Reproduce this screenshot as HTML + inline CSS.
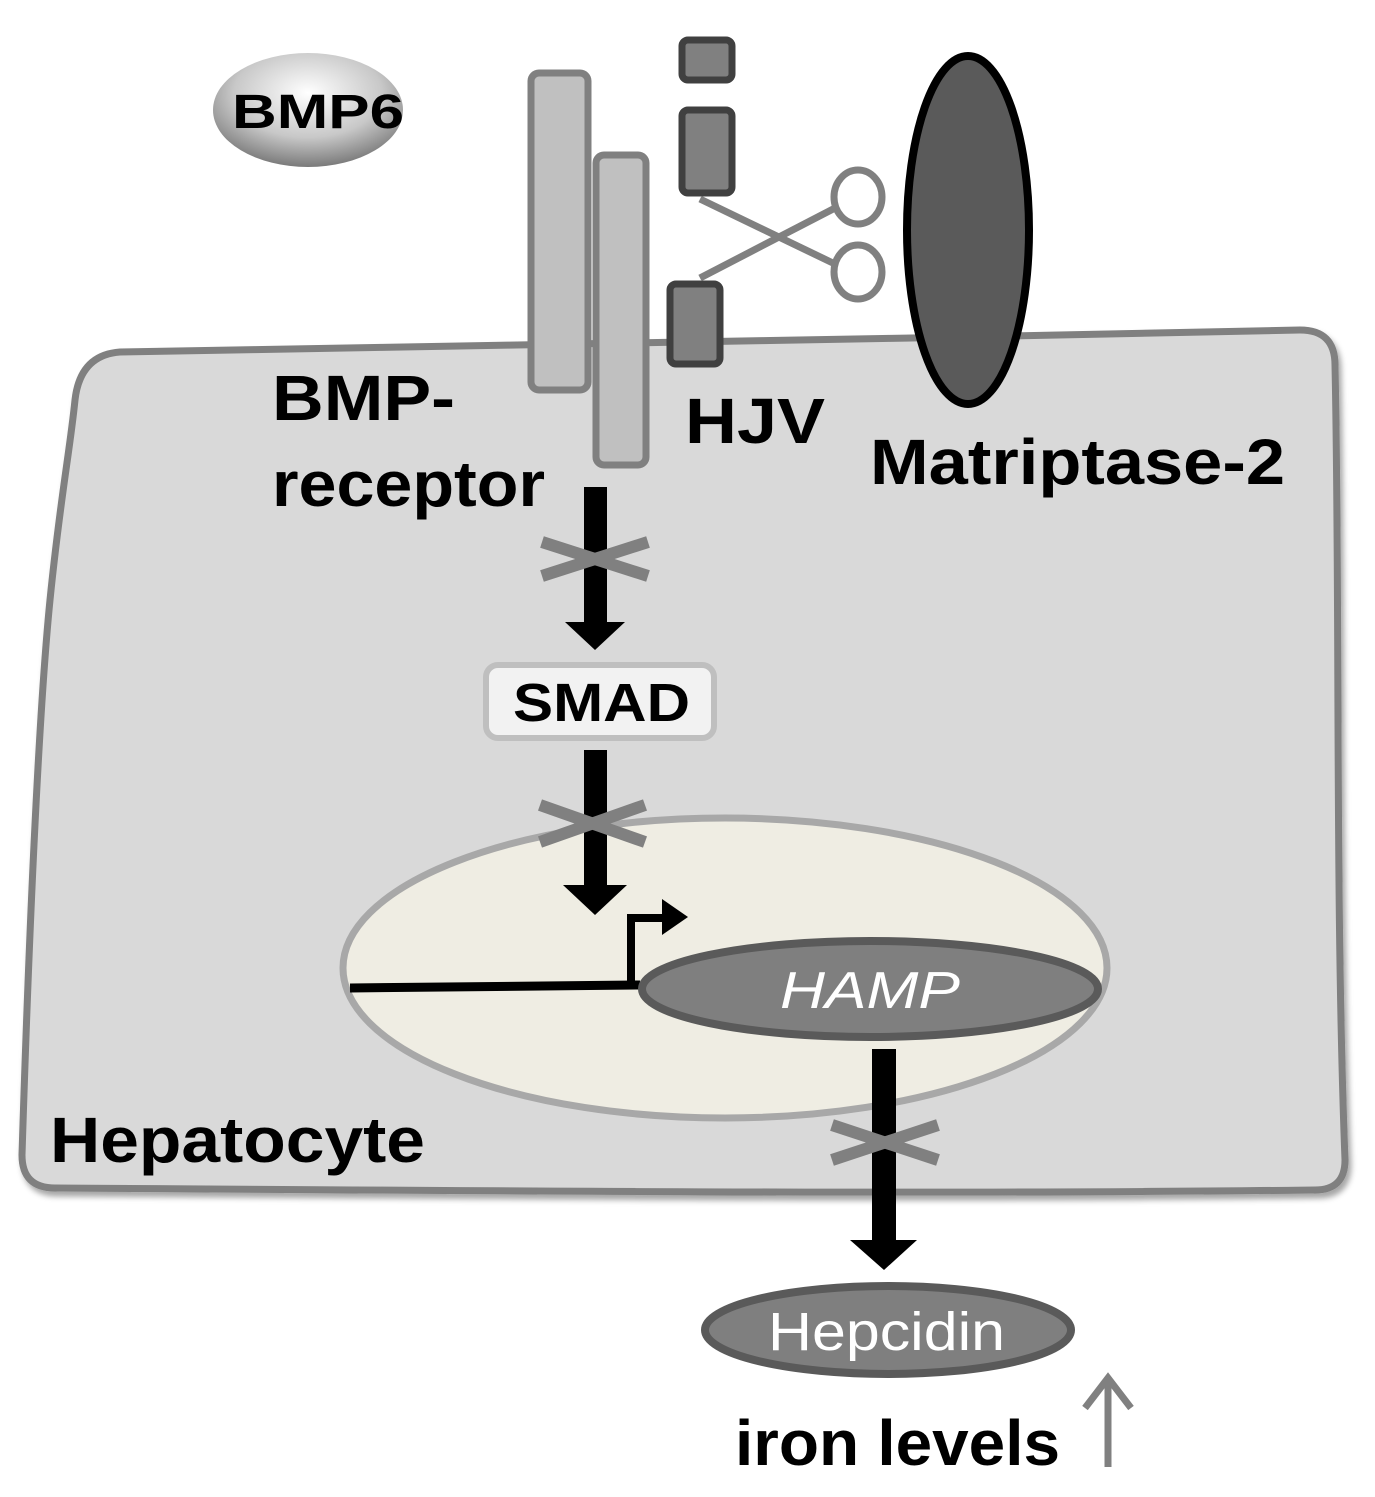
<!DOCTYPE html>
<html><head><style>html,body{margin:0;padding:0;background:#fff}svg{display:block}text{font-family:"Liberation Sans",Arial,sans-serif}</style></head>
<body>
<svg width="1375" height="1497" viewBox="0 0 1375 1497" xmlns="http://www.w3.org/2000/svg">
<defs>
<radialGradient id="g" cx="50%" cy="35%" r="65%"><stop offset="0" stop-color="#ffffff"/><stop offset="0.6" stop-color="#c8c8c8"/><stop offset="1" stop-color="#7a7a7a"/></radialGradient>
<filter id="sh"><feDropShadow dx="3" dy="5" stdDeviation="3" flood-color="#000" flood-opacity="0.35"/></filter>
</defs>
<path d="M120,352 C400,345 900,340 1300,330 Q1335,330 1335,365 C1340,600 1335,900 1345,1160 Q1345,1190 1315,1190 C900,1195 400,1190 55,1188 Q22,1188 22,1155 C30,900 40,700 50,600 C60,500 70,450 75,400 Q80,355 120,352 Z" fill="#d9d9d9" stroke="#808080" stroke-width="7" filter="url(#sh)"/>
<ellipse cx="308" cy="110" rx="95" ry="57" fill="url(#g)"/>
<text x="232" y="128" font-size="48" font-weight="bold" textLength="172" lengthAdjust="spacingAndGlyphs">BMP6</text>
<rect x="531" y="73" width="57" height="317" rx="8" fill="#c0c0c0" stroke="#808080" stroke-width="7"/>
<rect x="596" y="155" width="50" height="310" rx="8" fill="#c0c0c0" stroke="#808080" stroke-width="7"/>
<rect x="682" y="40" width="50" height="40" rx="6" fill="#808080" stroke="#404040" stroke-width="7"/>
<rect x="682" y="110" width="50" height="83" rx="6" fill="#808080" stroke="#404040" stroke-width="7"/>
<rect x="670" y="284" width="50" height="80" rx="6" fill="#808080" stroke="#404040" stroke-width="7"/>
<g stroke="#808080" stroke-width="7" fill="#fff">
<line x1="700" y1="199" x2="837" y2="265"/>
<line x1="700" y1="278" x2="837" y2="207"/>
<ellipse cx="858" cy="197" rx="24" ry="27"/>
<ellipse cx="858" cy="272" rx="24" ry="27"/>
</g>
<ellipse cx="968" cy="230" rx="61" ry="174" fill="#5a5a5a" stroke="#000" stroke-width="8"/>
<text x="272" y="420" font-size="64" font-weight="bold" textLength="183" lengthAdjust="spacingAndGlyphs">BMP-</text>
<text x="272" y="506" font-size="64" font-weight="bold" textLength="273" lengthAdjust="spacingAndGlyphs">receptor</text>
<text x="685" y="443" font-size="64" font-weight="bold" textLength="140" lengthAdjust="spacingAndGlyphs">HJV</text>
<text x="870" y="484" font-size="64" font-weight="bold" textLength="415" lengthAdjust="spacingAndGlyphs">Matriptase-2</text>
<text x="50" y="1162" font-size="64" font-weight="bold" textLength="375" lengthAdjust="spacingAndGlyphs">Hepatocyte</text>
<rect x="584" y="487" width="23" height="140" fill="#000"/>
<polygon points="565,622 625,622 595,650" fill="#000"/>
<g stroke="#808080" stroke-width="12"><line x1="542" y1="542" x2="648" y2="576"/><line x1="542" y1="576" x2="648" y2="542"/></g>
<rect x="486" y="665" width="228" height="73" rx="12" fill="#f2f2f2" stroke="#bfbfbf" stroke-width="6"/>
<text x="513" y="721" font-size="54" font-weight="bold" textLength="177" lengthAdjust="spacingAndGlyphs">SMAD</text>
<ellipse cx="725" cy="968" rx="382" ry="150" fill="#efede3" stroke="#a8a8a8" stroke-width="7"/>
<rect x="584" y="750" width="23" height="140" fill="#000"/>
<polygon points="563,885 627,885 595,915" fill="#000"/>
<g stroke="#808080" stroke-width="12"><line x1="540" y1="805" x2="645" y2="842"/><line x1="540" y1="842" x2="645" y2="805"/></g>
<line x1="350" y1="988" x2="640" y2="985" stroke="#000" stroke-width="9"/>
<polyline points="631,987 631,918 665,918" fill="none" stroke="#000" stroke-width="8"/>
<polygon points="662,899 662,935 688,917" fill="#000"/>
<ellipse cx="870" cy="989" rx="228" ry="48" fill="#7f7f7f" stroke="#5a5a5a" stroke-width="8"/>
<text x="780" y="1008" font-size="52" font-style="italic" fill="#fff" textLength="180" lengthAdjust="spacingAndGlyphs">HAMP</text>
<rect x="872" y="1049" width="24" height="195" fill="#000"/>
<polygon points="850,1240 917,1240 884,1270" fill="#000"/>
<g stroke="#808080" stroke-width="12"><line x1="832" y1="1125" x2="938" y2="1160"/><line x1="832" y1="1160" x2="938" y2="1125"/></g>
<ellipse cx="888" cy="1330" rx="183" ry="44" fill="#7f7f7f" stroke="#5a5a5a" stroke-width="8"/>
<text x="768" y="1350" font-size="54" fill="#fff" textLength="237" lengthAdjust="spacingAndGlyphs">Hepcidin</text>
<text x="735" y="1465" font-size="64" font-weight="bold" textLength="325" lengthAdjust="spacingAndGlyphs">iron levels</text>
<line x1="1108" y1="1467" x2="1108" y2="1380" stroke="#808080" stroke-width="7"/>
<polyline points="1085,1408 1108,1378 1131,1408" fill="none" stroke="#808080" stroke-width="7"/>
</svg>
</body></html>
